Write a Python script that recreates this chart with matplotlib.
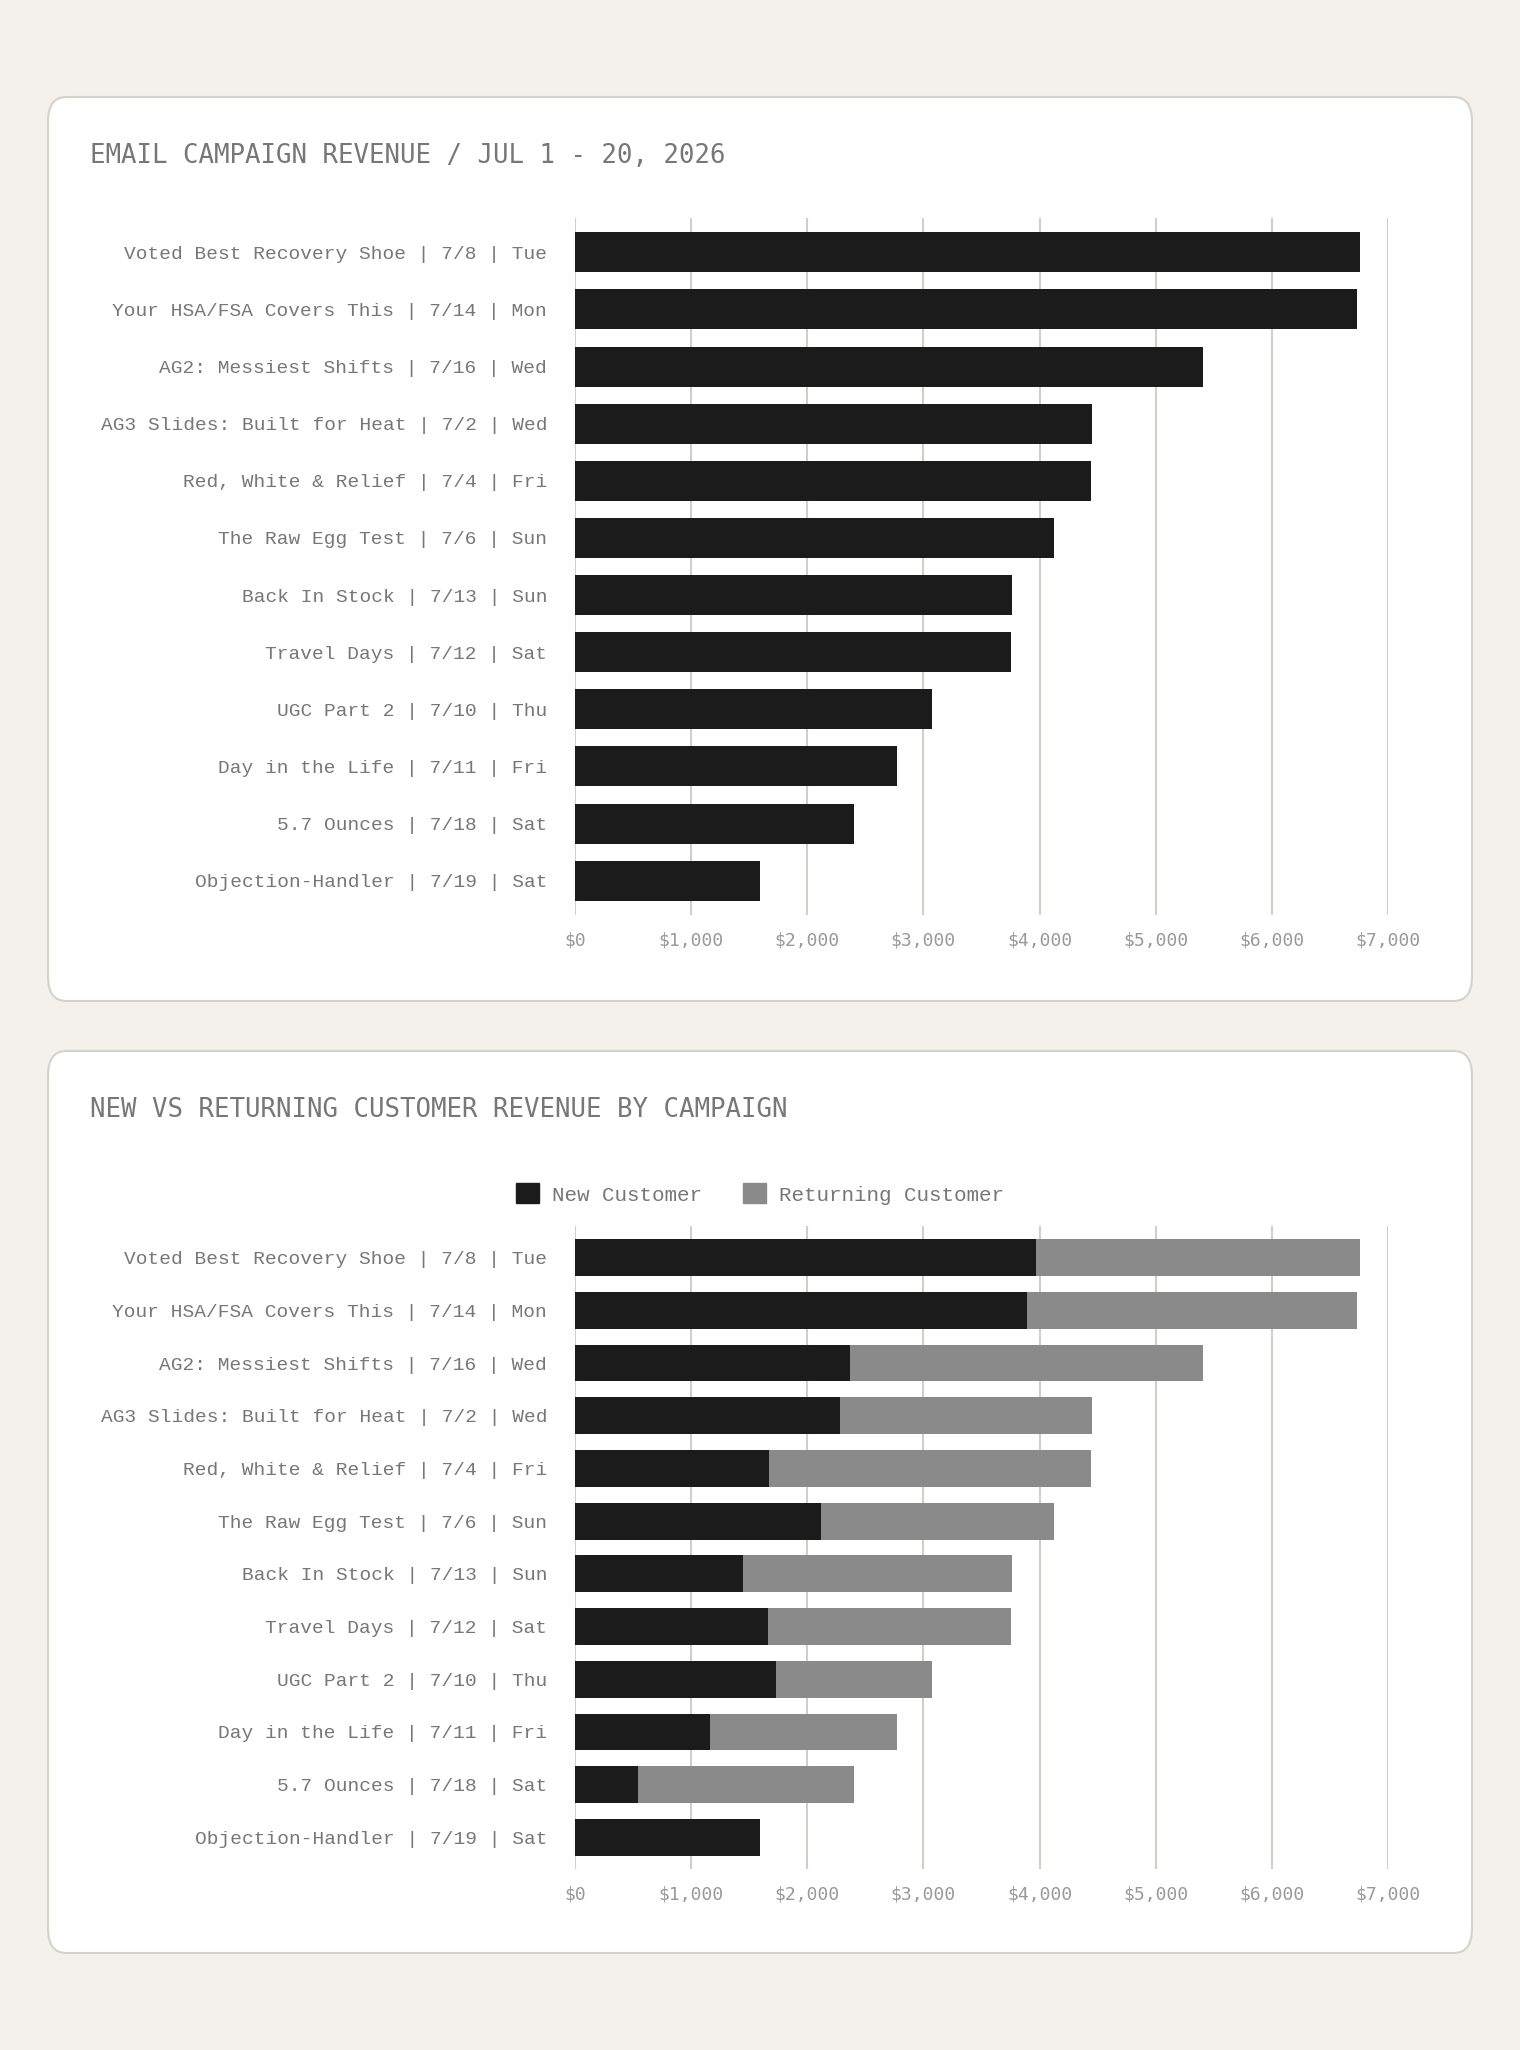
import matplotlib
matplotlib.use("Agg")
import matplotlib.pyplot as plt
from matplotlib.patches import FancyBboxPatch, Patch
from matplotlib.ticker import FuncFormatter

campaigns = ["Voted Best Recovery Shoe | 7/8 | Tue", "Your HSA/FSA Covers This | 7/14 | Mon",
             "AG2: Messiest Shifts | 7/16 | Wed", "AG3 Slides: Built for Heat | 7/2 | Wed",
             "Red, White & Relief | 7/4 | Fri", "The Raw Egg Test | 7/6 | Sun",
             "Back In Stock | 7/13 | Sun", "Travel Days | 7/12 | Sat",
             "UGC Part 2 | 7/10 | Thu", "Day in the Life | 7/11 | Fri",
             "5.7 Ounces | 7/18 | Sat", "Objection-Handler | 7/19 | Sat"]
total = [6760, 6730, 5410, 4450, 4440, 4120, 3760, 3750, 3070, 2770, 2400, 1590]
new_cust = [3970, 3890, 2370, 2280, 1670, 2120, 1450, 1660, 1730, 1160, 540, 1590]
returning = [t - n for t, n in zip(total, new_cust)]
xticks = [0, 1000, 2000, 3000, 4000, 5000, 6000, 7000]

W, H = 1520, 2050
fig = plt.figure(figsize=(W/100, H/100), dpi=100, facecolor="#f4f1ec")

def card(y0, y1):
    p = FancyBboxPatch((48/W, 1-y1/H), (1472-48)/W, (y1-y0)/H,
                       boxstyle="round,pad=0,rounding_size=0.012",
                       transform=fig.transFigure, facecolor="white",
                       edgecolor="#d6d1c9", linewidth=1.5, zorder=-10)
    fig.patches.append(p)

card(97, 1001)
card(1051, 1953)

BLACK = "#1b1b1b"; GREY = "#8a8a8a"
lab_font = dict(family="Liberation Mono", size=14, color="#777777")

def style(ax):
    ax.set_facecolor("none")
    ax.set_xlim(0, 7000)
    ax.set_xticks(xticks)
    ax.xaxis.set_major_formatter(FuncFormatter(lambda v, p: f"${int(v):,}"))
    ax.grid(axis="x", color="#d3cfc8", linewidth=1.5)
    ax.set_axisbelow(True)
    for s in ax.spines.values():
        s.set_visible(False)
    ax.tick_params(length=0, pad=12)
    for t in ax.get_xticklabels():
        t.set_fontfamily("DejaVu Sans Mono"); t.set_fontsize(13); t.set_color("#999999")
    ax.set_yticks(range(len(campaigns)))
    ax.set_yticklabels(campaigns, **lab_font)
    ax.tick_params(axis="y", pad=20)
    ax.set_ylim(len(campaigns)-0.4, -0.6)

def axes(y0, y1):
    return fig.add_axes([575/W, 1-y1/H, (1388-575)/W, (y1-y0)/H])

ax1 = axes(218, 915)
ax1.barh(range(len(campaigns)), total, height=0.7, color=BLACK)
style(ax1)

ax2 = axes(1226, 1869)
ax2.barh(range(len(campaigns)), new_cust, height=0.7, color=BLACK, label="New Customer")
ax2.barh(range(len(campaigns)), returning, left=new_cust, height=0.7, color=GREY, label="Returning Customer")
style(ax2)

fig.text(90/W, 1-156/H, "EMAIL CAMPAIGN REVENUE / JUL 1 - 20, 2026", family="DejaVu Sans Mono",
         size=18.5, color="#777777", va="center")
fig.text(90/W, 1-1110/H, "NEW VS RETURNING CUSTOMER REVENUE BY CAMPAIGN", family="DejaVu Sans Mono",
         size=18.5, color="#777777", va="center")

handles = [Patch(color=BLACK, label="New Customer"), Patch(color=GREY, label="Returning Customer")]
fig.legend(handles=handles, loc="center", bbox_to_anchor=(760/W, 1-1194/H), ncol=2, frameon=False,
           prop=dict(family="Liberation Mono", size=15), labelcolor="#777777",
           handlelength=1.1, handleheight=1.1, columnspacing=2.0, handletextpad=0.6)

fig.savefig("out.png", dpi=100, facecolor=fig.get_facecolor())
